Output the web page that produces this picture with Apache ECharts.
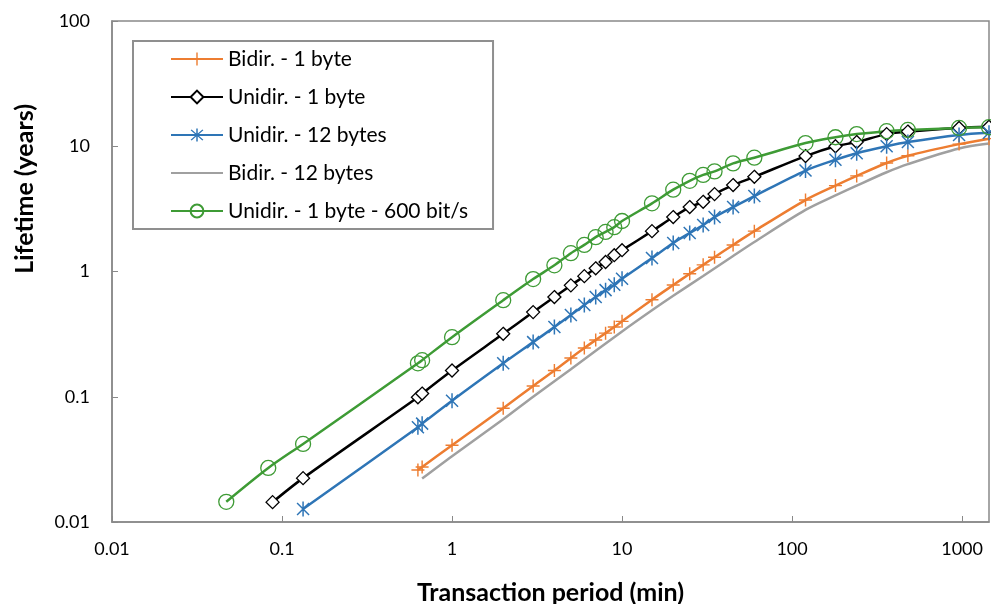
<!DOCTYPE html>
<html>
<head>
<meta charset="utf-8">
<script src="https://cdn.jsdelivr.net/npm/echarts@6/dist/echarts.min.js"></script>
<style>
  html, body { margin: 0; padding: 0; background: #fff; }
  #chart { width: 991px; height: 604px; }
</style>
</head>
<body>
<div id="chart"></div>
<script>
// Transaction period (min) and battery lifetime (years) for each link mode
const bidir1Period  = [0.63, 0.667, 1, 2, 3, 4, 5, 6, 7, 8, 9, 10, 15, 20, 25, 30, 35, 45, 60, 120, 180, 240, 360, 480, 960, 1440];
const bidir1Life    = [0.026, 0.0275, 0.041, 0.081, 0.122, 0.162, 0.204, 0.245, 0.284, 0.322, 0.36, 0.4, 0.595, 0.78, 0.96, 1.13, 1.3, 1.63, 2.1, 3.72, 4.85, 5.8, 7.35, 8.4, 10.4, 11.5];

const unidir1Period = [0.088, 0.133, 0.63, 0.667, 1, 2, 3, 4, 5, 6, 7, 8, 9, 10, 15, 20, 25, 30, 35, 45, 60, 120, 180, 240, 360, 480, 960, 1440];
const unidir1Life   = [0.0144, 0.0224, 0.099, 0.106, 0.162, 0.318, 0.474, 0.625, 0.775, 0.918, 1.06, 1.19, 1.35, 1.48, 2.1, 2.72, 3.27, 3.6, 4.15, 4.9, 5.7, 8.35, 10.0, 10.8, 12.5, 13.1, 14.0, 14.3];

const unidir12Period = [0.133, 0.63, 0.667, 1, 2, 3, 4, 5, 6, 7, 8, 9, 10, 15, 20, 25, 30, 35, 45, 60, 120, 180, 240, 360, 480, 960, 1440];
const unidir12Life   = [0.0127, 0.057, 0.061, 0.093, 0.185, 0.273, 0.36, 0.449, 0.54, 0.625, 0.71, 0.785, 0.875, 1.28, 1.69, 2.03, 2.35, 2.72, 3.27, 4.0, 6.4, 7.8, 8.8, 10.0, 10.8, 12.3, 12.8];

const bidir12Period = [0.667, 1, 2, 3, 5, 10, 15, 20, 30, 45, 60, 120, 180, 240, 360, 480, 960, 1440];
const bidir12Life   = [0.0222, 0.0335, 0.066, 0.1, 0.166, 0.332, 0.49, 0.64, 0.92, 1.33, 1.72, 3.1, 4.05, 4.85, 6.2, 7.2, 9.6, 10.5];

const unidir600Period = [0.047, 0.083, 0.133, 0.63, 0.667, 1, 2, 3, 4, 5, 6, 7, 8, 9, 10, 15, 20, 25, 30, 35, 45, 60, 120, 180, 240, 360, 480, 960, 1440];
const unidir600Life   = [0.0145, 0.027, 0.042, 0.185, 0.196, 0.299, 0.59, 0.87, 1.12, 1.4, 1.63, 1.88, 2.07, 2.26, 2.53, 3.5, 4.5, 5.3, 5.9, 6.3, 7.3, 8.1, 10.6, 11.8, 12.5, 13.2, 13.5, 14.0, 14.2];

const seriesNames = ['Bidir. - 1 byte', 'Unidir. - 1 byte', 'Unidir. - 12 bytes', 'Bidir. - 12 bytes', 'Unidir. - 1 byte - 600 bit/s'];
const xTickLabels = ['0.01', '0.1', '1', '10', '100', '1000'];
const yTickLabels = ['0.01', '0.1', '1', '10', '100'];

const pair = (xs, ys) => xs.map((x, i) => [x, ys[i]]);

// marker shapes
const plusPath = 'path://M0,8.9 L20,8.9 L20,11.1 L0,11.1 Z M8.9,0 L11.1,0 L11.1,20 L8.9,20 Z';
const starPath = 'path://M9,0 L11,0 L11,20 L9,20 Z M1.3,2.7 L2.7,1.3 L18.7,17.3 L17.3,18.7 Z M17.3,1.3 L18.7,2.7 L2.7,18.7 L1.3,17.3 Z';

const FONT = 'Lato, "Open Sans", sans-serif';
const AXIS_GRAY = '#898989';

const C_ORANGE = '#ED7D31';
const C_BLACK = '#000000';
const C_BLUE = '#2E75B6';
const C_GRAY = '#A0A0A0';
const C_GREEN = '#3E9B35';

const decadeLabel = (labels, v) => {
  const k = Math.round(Math.log10(v)) + 2;
  return labels[k] !== undefined ? labels[k] : String(v);
};

const chart = echarts.init(document.getElementById('chart'), null, { renderer: 'canvas' });

chart.setOption({
  animation: false,
  backgroundColor: '#fff',
  textStyle: { fontFamily: FONT },
  grid: {
    left: 112, right: 2, top: 21, bottom: 82,
    outerBoundsMode: 'none',
    containLabel: false,
    show: true, borderColor: AXIS_GRAY, borderWidth: 1.5
  },
  graphic: [{
    type: 'text',
    left: 12, top: 104,
    rotation: Math.PI / 2,
    style: {
      text: 'Lifetime (years)',
      font: 'bold 25px ' + FONT,
      fill: '#000'
    }
  }],
  legend: {
    orient: 'vertical',
    left: 133, top: 41,
    padding: [7, 25, 7, 37],
    itemWidth: 52, itemHeight: 16, itemGap: 16,
    borderColor: '#8f8f8f', borderWidth: 2,
    backgroundColor: '#fff',
    data: seriesNames,
    textStyle: { fontFamily: FONT, fontSize: 21, color: '#000', lineHeight: 22 }
  },
  xAxis: {
    type: 'log', logBase: 10, min: 0.01, max: 1440,
    name: 'Transaction period (min)',
    nameLocation: 'middle', nameGap: 58,
    nameTextStyle: { fontFamily: FONT, fontSize: 25, fontWeight: 'bold', color: '#000' },
    axisLine: { show: true, lineStyle: { color: AXIS_GRAY, width: 1.5 } },
    axisTick: { show: true, inside: true, length: 6, lineStyle: { color: AXIS_GRAY } },
    minorTick: { show: false },
    splitLine: { show: false },
    axisLabel: {
      margin: 18, fontSize: 18, color: '#000', fontFamily: FONT,
      formatter: v => decadeLabel(xTickLabels, v)
    }
  },
  yAxis: {
    type: 'log', logBase: 10, min: 0.01, max: 100,
    axisLine: { show: true, lineStyle: { color: AXIS_GRAY, width: 1.5 } },
    axisTick: { show: true, inside: true, length: 6, lineStyle: { color: AXIS_GRAY } },
    splitLine: { show: false },
    axisLabel: {
      margin: 22, fontSize: 18, color: '#000', fontFamily: FONT,
      formatter: v => decadeLabel(yTickLabels, v)
    }
  },
  series: [
    {
      name: seriesNames[0], type: 'line', smooth: 0.3,
      data: pair(bidir1Period, bidir1Life),
      symbol: plusPath, symbolSize: 13, showAllSymbol: true,
      lineStyle: { color: C_ORANGE, width: 2.5 },
      itemStyle: { color: C_ORANGE }
    },
    {
      name: seriesNames[1], type: 'line', smooth: 0.3,
      data: pair(unidir1Period, unidir1Life),
      symbol: 'diamond', symbolSize: 13, showAllSymbol: true,
      lineStyle: { color: C_BLACK, width: 2.5 },
      itemStyle: { color: '#fff', borderColor: C_BLACK, borderWidth: 1.3 }
    },
    {
      name: seriesNames[2], type: 'line', smooth: 0.3,
      data: pair(unidir12Period, unidir12Life),
      symbol: starPath, symbolSize: 15, symbolKeepAspect: true, showAllSymbol: true,
      lineStyle: { color: C_BLUE, width: 2.5 },
      itemStyle: { color: C_BLUE }
    },
    {
      name: seriesNames[3], type: 'line', smooth: 0.3,
      data: pair(bidir12Period, bidir12Life),
      symbol: 'circle', symbolSize: 1, showSymbol: false,
      lineStyle: { color: C_GRAY, width: 2.5 },
      itemStyle: { color: 'rgba(0,0,0,0)', borderWidth: 0 }
    },
    {
      name: seriesNames[4], type: 'line', smooth: 0.3,
      data: pair(unidir600Period, unidir600Life),
      symbol: 'circle', symbolSize: 15, showAllSymbol: true,
      lineStyle: { color: C_GREEN, width: 2.5 },
      itemStyle: { color: 'rgba(255,255,255,0)', borderColor: C_GREEN, borderWidth: 1.3 }
    }
  ]
});
</script>
</body>
</html>
